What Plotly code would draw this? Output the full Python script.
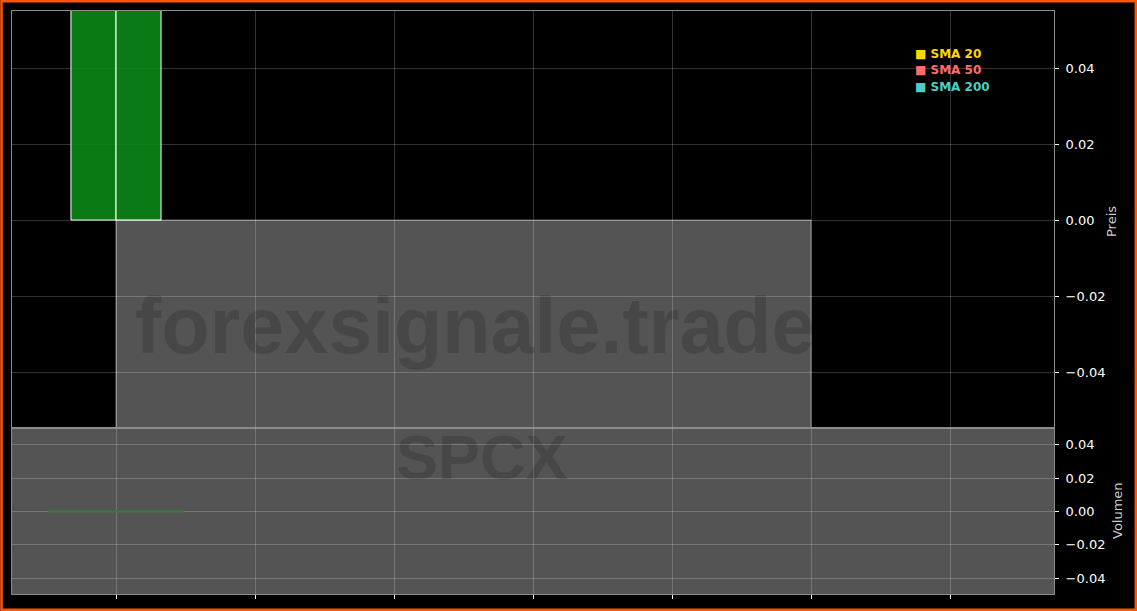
import plotly.graph_objects as go

# ---------------- data ----------------
candle_x = [-0.162, 0.162]          # bar index of the two up-candles
candle_open = [0.0, 0.0]
candle_close = [0.06, 0.06]          # extends beyond the visible range
range_start = [0.0]                  # grey price band (start index)
range_end = [5.0]                    # grey price band (end index)
range_top = [0.0]
range_bottom = [-0.06]
vol_x = [0.0]
vol_values = [0.0]
x_ticks = [0, 1, 2, 3, 4, 5, 6]
price_ticks = [0.04, 0.02, 0.0, -0.02, -0.04]
vol_ticks = [0.04, 0.02, 0.0, -0.02, -0.04]
legend_names = ["SMA 20", "SMA 50", "SMA 200"]
legend_colors = ["#FFD700", "#FF6B6B", "#4ECDC4"]
watermark = "forexsignale.trade"
symbol = "SPCX"

# ---------------- figure ----------------
W, H = 1137, 611
ML, MR, MT, MB = 12, 83, 11, 17
PW, PH = W - ML - MR, H - MT - MB
split = 166 / PH  # volume panel fraction


def px_x(p):
    return (p - ML) / PW


def px_y(p):
    return (H - MB - p) / PH


fig = go.Figure()

candle_w = 0.324
fig.add_trace(go.Bar(
    x=candle_x, y=[c - o for o, c in zip(candle_open, candle_close)], base=candle_open,
    width=candle_w, marker=dict(color="rgba(11,135,24,0.9)", line=dict(color="#ffffff", width=1)),
    xaxis="x", yaxis="y", showlegend=False, hoverinfo="skip"))

fig.add_trace(go.Bar(
    x=[(s + e) / 2 for s, e in zip(range_start, range_end)],
    y=[b - t for t, b in zip(range_top, range_bottom)], base=range_top,
    width=[e - s for s, e in zip(range_start, range_end)],
    marker=dict(color="rgba(255,255,255,0.33)", line=dict(color="rgba(255,255,255,0.45)", width=1)),
    xaxis="x", yaxis="y", showlegend=False, hoverinfo="skip"))

vol_w = 0.98
for vx, vv in zip(vol_x, vol_values):
    fig.add_trace(go.Scatter(
        x=[vx - vol_w / 2, vx + vol_w / 2], y=[vv, vv], mode="lines",
        line=dict(color="#3d7a3d", width=2), xaxis="x2", yaxis="y2",
        showlegend=False, hoverinfo="skip"))

grid = "rgba(255,255,255,0.2)"
spine = "#8c8c8c"
tickfont = dict(family="DejaVu Sans", size=13, color="#ffffff")
xr = [-104 / 139, 938 / 139]

fig.update_layout(
    width=W, height=H, margin=dict(l=ML, r=MR, t=MT, b=MB),
    paper_bgcolor="#000000", plot_bgcolor="#000000",
    barmode="overlay", showlegend=False,
    xaxis=dict(domain=[0, 1], anchor="y", range=xr, tickvals=x_ticks, showticklabels=False,
               ticks="", showgrid=True, gridcolor=grid, zeroline=False,
               showline=True, mirror=True, linecolor=spine, linewidth=1, matches="x2"),
    xaxis2=dict(domain=[0, 1], anchor="y2", range=xr, tickvals=x_ticks, showticklabels=False,
                ticks="outside", ticklen=4, tickcolor="#ffffff", showgrid=True, gridcolor=grid,
                zeroline=False, showline=True, mirror=True, linecolor=spine, linewidth=1),
    yaxis=dict(domain=[split, 1], anchor="x", side="right", range=[-0.0547, 0.055],
               tickvals=price_ticks, tickformat=".2f", ticks="outside", ticklen=4,
               ticklabelstandoff=4,
               tickcolor="#ffffff", tickfont=tickfont, showgrid=True, gridcolor=grid,
               zeroline=False, showline=True, mirror=True, linecolor=spine, linewidth=1),
    yaxis2=dict(domain=[0, split], anchor="x2", side="right", range=[-0.0494, 0.050],
                tickvals=vol_ticks, tickformat=".2f", ticks="outside", ticklen=4,
                ticklabelstandoff=4,
                tickcolor="#ffffff", tickfont=tickfont, showgrid=True, gridcolor=grid,
                zeroline=False, showline=True, mirror=True, linecolor=spine, linewidth=1),
)

# grey volume panel background
fig.add_shape(type="rect", xref="x2 domain", yref="y2 domain", x0=0, x1=1, y0=0, y1=1,
              fillcolor="rgba(255,255,255,0.33)", line=dict(width=0), layer="below")

# watermark
fig.add_annotation(text=f"<b>{watermark}</b>", xref="paper", yref="paper",
                   x=px_x(475), y=px_y(325), showarrow=False, xanchor="center", yanchor="middle",
                   font=dict(family="Liberation Sans", size=79, color="rgba(0,0,0,0.15)"))
fig.add_annotation(text=f"<b>{symbol}</b>", xref="paper", yref="paper",
                   x=px_x(482), y=px_y(457), showarrow=False, xanchor="center", yanchor="middle",
                   font=dict(family="Liberation Sans", size=63, color="rgba(0,0,0,0.15)"))

# legend
for i, (name, col) in enumerate(zip(legend_names, legend_colors)):
    fig.add_annotation(text=f"<b>■ {name}</b>", xref="paper", yref="paper",
                       x=px_x(913), y=px_y(54 + 16.5 * i), showarrow=False,
                       xanchor="left", yanchor="middle",
                       font=dict(family="DejaVu Sans", size=12, color=col))

# axis titles
fig.add_annotation(text="Preis", xref="paper", yref="paper", x=px_x(1111), y=px_y(222),
                   showarrow=False, textangle=-90, xanchor="center", yanchor="middle",
                   font=dict(family="DejaVu Sans", size=13, color="#cccccc"))
fig.add_annotation(text="Volumen", xref="paper", yref="paper", x=px_x(1117), y=px_y(511),
                   showarrow=False, textangle=-90, xanchor="center", yanchor="middle",
                   font=dict(family="DejaVu Sans", size=13, color="#cccccc"))

# orange figure border
fig.add_shape(type="rect", xref="paper", yref="paper",
              x0=px_x(1.5), x1=px_x(1135.8), y0=px_y(609.8), y1=px_y(1.2),
              line=dict(color="#FF5500", width=2.5), fillcolor="rgba(0,0,0,0)", layer="above")

fig.write_html("out.html", config={"displayModeBar": False},
               post_script="document.body.style.margin='0';document.body.style.padding='0';"
                           "document.body.style.background='#000';")
